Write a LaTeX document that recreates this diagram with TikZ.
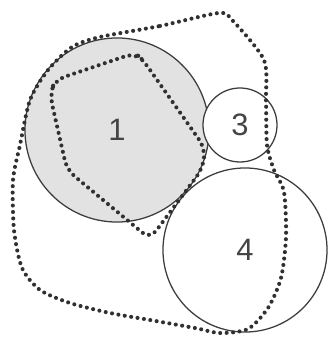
\documentclass[tikz,border=0pt]{standalone}
\usepackage{fontspec}
\setmainfont{Liberation Sans}
\usepackage{xcolor}
\usepackage{tikz}
\definecolor{cEdge}{HTML}{3C3C3C}
\definecolor{cDot}{HTML}{303030}
\definecolor{cFill}{HTML}{E2E2E2}
\definecolor{cText}{HTML}{444444}

\begin{document}
\begin{tikzpicture}[
  x=0.025cm, y=-0.025cm,
  font=\fontsize{22}{26}\selectfont,
  disc/.style={circle, draw=cEdge, line width=0.9pt, fill=white,
               inner sep=0pt, text=cText},
  shaded/.style={disc, fill=cFill},
  dotline/.style={draw=cDot, line width=2.9pt, line cap=round,
                  dash pattern=on 0pt off 4.6pt},
]
\useasboundingbox (0,0) rectangle (328,340);

% ---- circles
\node[shaded, minimum size=4.6cm] (c1) at (117,130) {1};
\node[disc, minimum size=1.85cm] (c3) at (240,125) {3};
\node[disc, minimum size=4.1cm] (c4) at (245,250) {4};

% ---- outer dotted region
\draw[dotline] plot[smooth cycle, tension=0.45] coordinates {
  (100,37) (160,26) (219,13) (233,21) (264,60) (266,100) (267,145)
  (274,170) (284,192) (286,237) (281,278) (268,308) (248,329)
  (220,333) (195,328) (150,320) (110,313) (70,303) (40,290) (22,268)
  (14,230) (13,180) (20,145) (30,100) (48,70) (72,47)};

% ---- inner dotted region
\draw[dotline, rounded corners=7pt]
  (50,95) -- (55,80) -- (135,53) -- (143,60) -- (205,148)
  -- (203,168) -- (150,239) -- (67,170) -- cycle;
\end{tikzpicture}
\end{document}
